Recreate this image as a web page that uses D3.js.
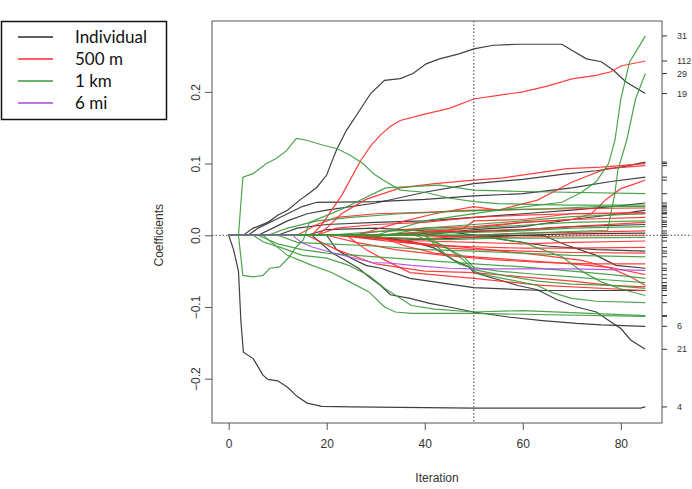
<!DOCTYPE html>
<html>
<head>
<meta charset="utf-8">
<script src="https://cdn.jsdelivr.net/npm/d3@7"></script>
<style>
  body { margin: 0; background: #fff; }
  svg text { font-family: "Liberation Sans", Arial, sans-serif; }
  svg text.legend-label { font-family: Lato, "Open Sans", sans-serif; }
</style>
</head>
<body>
<svg width="692" height="489"></svg>
<script>
// coefficient paths as [iteration, coefficient] knots
var blackPaths = [
  [[0,0],[1,-0.02],[2,-0.05],[2.5,-0.12],[3,-0.163],[5,-0.172],[7,-0.195],[8,-0.201],[10,-0.203],[12,-0.212],[14,-0.225],[16,-0.234],[19,-0.2385],[25,-0.2394],[50,-0.241],[84,-0.241],[85,-0.2394]],
  [[0,0],[3,0],[5,0.01],[8,0.018],[10,0.028],[12,0.035],[14.5,0.049],[16.5,0.059],[18,0.067],[20,0.084],[21,0.102],[22,0.119],[24,0.146],[26.7,0.174],[29,0.198],[31.8,0.216],[35,0.2185],[37.6,0.2255],[40.3,0.239],[43,0.246],[47,0.253],[50,0.26],[54,0.265],[59,0.2664],[68,0.2664],[70,0.258],[73,0.246],[76,0.242],[78.5,0.23],[81,0.214],[85,0.1976]],
  [[0,0],[17,0],[19,-0.012],[21,-0.024],[24,-0.036],[26.5,-0.046],[28.6,-0.058],[31,-0.07],[33,-0.083],[37,-0.088],[41,-0.095],[45,-0.1],[50,-0.107],[57,-0.114],[64,-0.119],[71,-0.123],[76,-0.125],[85,-0.127]],
  [[0,0],[28,0],[33,-0.005],[38,-0.01],[42,-0.018],[46,-0.035],[49,-0.044],[50,-0.052],[54,-0.06],[59,-0.07],[63,-0.076],[67,-0.09],[71,-0.1],[75,-0.107],[78,-0.121],[80,-0.13],[82,-0.146],[85,-0.159]],
  [[0,0],[4,0],[6,0.01],[9,0.02],[12,0.03],[15,0.04],[18,0.046],[30,0.047],[40,0.05],[50,0.055],[60,0.058],[70,0.066],[78,0.075],[85,0.081]],
  [[0,0],[6,0],[9,0.01],[12,0.02],[16,0.03],[20,0.035],[30,0.045],[40,0.06],[50,0.072],[60,0.078],[68,0.085],[75,0.09],[80,0.095],[85,0.102]],
  [[0,0],[10,0],[14,0.01],[20,0.015],[30,0.018],[40,0.02],[50,0.025],[60,0.03],[70,0.035],[78,0.04],[85,0.045]],
  [[0,0],[16,0],[20,0.008],[30,0.01],[40,0.006],[50,0.005],[60,0.008],[70,0.012],[85,0.015]],
  [[0,0],[22,0],[30,-0.004],[40,-0.006],[50,-0.003],[60,0],[70,0.002],[85,0.003]],
  [[0,0],[20,0],[22,-0.02],[25,-0.032],[28,-0.042],[31,-0.046],[37,-0.06],[50,-0.073],[64,-0.077],[85,-0.077]],
  [[0,0],[64,0],[69,-0.014],[75,-0.028],[79,-0.042],[85,-0.046]],
  [[0,0],[35,0],[45,0.005],[55,-0.005],[65,-0.015],[75,-0.02],[85,-0.022]],
  [[0,0],[40,0],[50,0.008],[60,0.012],[70,0.022],[80,0.03],[85,0.035]]
];

var redPaths = [
  [[0,0],[17,0],[19,0.015],[21,0.035],[23,0.055],[25,0.08],[27,0.105],[29,0.125],[31,0.14],[33,0.152],[35,0.16],[40,0.169],[45,0.177],[50,0.19],[55,0.195],[60,0.2],[65,0.208],[70,0.218],[75,0.223],[78,0.228],[80,0.236],[85,0.243]],
  [[0,0],[18,0],[20,0.01],[23,0.03],[28,0.05],[35,0.066],[42,0.072],[50,0.077],[56,0.08],[62,0.086],[69,0.093],[76,0.095],[85,0.1]],
  [[0,0],[26,0],[30,0.008],[36,0.02],[42,0.03],[50,0.04],[55,0.035],[63,0.049],[70,0.074],[77,0.093],[85,0.097]],
  [[0,0],[30,0],[40,0.005],[50,0.01],[60,0.018],[70,0.022],[74,0.03],[77,0.05],[80,0.065],[83,0.072],[85,0.077]],
  [[0,0],[14,0],[18,0.015],[22,0.025],[30,0.03],[40,0.032],[50,0.035],[60,0.036],[70,0.037],[85,0.038]],
  [[0,0],[18,0],[22,0.01],[30,0.015],[40,0.018],[50,0.025],[60,0.028],[70,0.03],[85,0.032]],
  [[0,0],[25,0],[30,0.005],[40,0.01],[50,0.012],[60,0.018],[70,0.022],[85,0.025]],
  [[0,0],[30,0],[40,0.004],[50,0.006],[60,0.008],[70,0.012],[85,0.018]],
  [[0,0],[20,0],[30,-0.003],[40,-0.005],[50,0],[60,0.003],[70,0.004],[85,0.006]],
  [[0,0],[35,0],[45,-0.002],[55,-0.003],[70,-0.001],[85,0]],
  [[0,0],[22,0],[30,-0.006],[40,-0.008],[50,-0.01],[60,-0.012],[70,-0.01],[85,-0.008]],
  [[0,0],[24,0],[32,-0.008],[42,-0.014],[50,-0.016],[60,-0.018],[70,-0.018],[85,-0.017]],
  [[0,0],[28,0],[36,-0.01],[45,-0.018],[50,-0.02],[60,-0.022],[70,-0.024],[85,-0.025]],
  [[0,0],[26,0],[37,-0.0098],[50,-0.018],[64,-0.028],[72,-0.035],[78,-0.046],[82,-0.058],[85,-0.07]],
  [[0,0],[24,0],[28,-0.02],[32,-0.035],[37,-0.052],[50,-0.06],[64,-0.07],[85,-0.077]],
  [[0,0],[30,0],[36,-0.015],[42,-0.025],[50,-0.03],[60,-0.035],[70,-0.04],[78,-0.045],[85,-0.055]],
  [[0,0],[20,0],[26,-0.01],[34,-0.02],[44,-0.028],[54,-0.034],[64,-0.038],[74,-0.04],[85,-0.04]],
  [[0,0],[16,0],[22,-0.02],[30,-0.04],[40,-0.05],[50,-0.052],[60,-0.058],[70,-0.064],[78,-0.07],[85,-0.072]],
  [[0,0],[40,0],[48,0.01],[50,0.02],[60,0.022],[70,0.03],[85,0.03]]
];

var greenPaths = [
  [[0,0],[30,0],[40,0.02],[55,0.035],[68,0.046],[72,0.06],[75,0.075],[77.5,0.1],[78.8,0.1325],[80,0.19],[81.8,0.242],[83,0.255],[85,0.278]],
  [[0,0],[50,0],[65,0.004],[77.3,0.007],[78.8,0.059],[79.4,0.091],[81.2,0.1325],[83,0.19],[85,0.2255]],
  [[0,0],[2,0],[2.9,0.081],[5,0.086],[7.7,0.1],[9.7,0.107],[11.8,0.118],[13.8,0.135],[15.9,0.1325],[19.3,0.1255],[22,0.121],[24.7,0.112],[27.4,0.1],[29.5,0.086],[31.5,0.077],[35,0.063],[40,0.06],[45,0.052],[50,0.047],[55,0.044],[69,0.042],[85,0.042]],
  [[0,0],[2,0],[2.9,-0.056],[5,-0.058],[7,-0.056],[8.4,-0.046],[10.4,-0.044],[12.4,-0.03],[13.8,-0.016],[15.2,-0.007],[16.5,0.018],[22.6,0.035],[32,0.066],[43,0.07],[50,0.063],[60,0.061],[85,0.058]],
  [[0,0],[5,0],[7,-0.009],[11,-0.018],[15,-0.028],[20,-0.032],[24.5,-0.042],[28.6,-0.056],[31.8,-0.074],[37.3,-0.098],[42,-0.103],[50,-0.107],[60,-0.105],[70,-0.108],[85,-0.112]],
  [[0,0],[7,0],[12,-0.028],[17,-0.042],[21,-0.052],[25,-0.066],[28.6,-0.079],[31.8,-0.1],[34,-0.107],[37.3,-0.109],[50,-0.109],[85,-0.113]],
  [[0,0],[40,0],[44,-0.025],[47,-0.04],[49,-0.044],[50,-0.05],[52,-0.055],[58,-0.063],[63,-0.07],[66,-0.08],[70,-0.088],[75,-0.092],[85,-0.094]],
  [[0,0],[8,0],[12,0.01],[18,0.02],[25,0.025],[35,0.03],[45,0.033],[55,0.035],[65,0.037],[75,0.04],[85,0.04]],
  [[0,0],[20,0],[30,0.005],[40,0.008],[50,0.01],[60,0.014],[70,0.018],[85,0.02]],
  [[0,0],[30,0],[40,0.003],[50,0.004],[60,0.006],[70,0.01],[85,0.012]],
  [[0,0],[25,0],[35,-0.004],[45,-0.006],[55,-0.004],[65,-0.004],[85,-0.003]],
  [[0,0],[6,0],[10,-0.012],[15,-0.02],[20,-0.025],[30,-0.03],[40,-0.035],[50,-0.04],[60,-0.044],[70,-0.05],[78,-0.055],[85,-0.06]],
  [[0,0],[40,0],[45,-0.02],[48,-0.03],[50,-0.045],[55,-0.05],[62,-0.054],[70,-0.058],[77,-0.062],[85,-0.066]],
  [[0,0],[38,0],[44,-0.015],[48,-0.035],[50,-0.048],[56,-0.056],[63,-0.064],[70,-0.068],[78,-0.07],[85,-0.074]],
  [[0,0],[50,0],[60,-0.01],[68,-0.03],[72,-0.05],[76,-0.065],[80,-0.075],[85,-0.084]],
  [[0,0],[10,0],[14,-0.01],[20,-0.012],[30,-0.015],[40,-0.02],[50,-0.022],[60,-0.025],[70,-0.028],[85,-0.03]],
  [[0,0],[32,0],[40,0.01],[50,0.015],[60,0.02],[70,0.026],[85,0.03]]
];

var purplePaths = [
  [[0,0],[13.3,0],[13.5,-0.003],[14.9,-0.01],[16.9,-0.016],[21,-0.024],[25.1,-0.031],[29.2,-0.038],[33.3,-0.039],[37.3,-0.042],[45,-0.046],[50,-0.047],[70,-0.047],[85,-0.049]]
];

// right-hand labels: [group, index in group, label]
var endLabels = [
  ["g", 0, "31"], ["r", 0, "112"], ["g", 1, "29"], ["k", 1, "19"],
  ["k", 2, "6"], ["k", 3, "21"], ["k", 0, "4"]
];

var xTicks = [0, 20, 40, 60, 80],
    yTicks = [-0.2, -0.1, 0, 0.1, 0.2],
    legendNames = ["Individual", "500 m", "1 km", "6 mi"],
    stopIteration = 50;

var colors = { k: "#2b2b2b", r: "#ff2a2a", g: "#3a9a3a", p: "#a845e8" };

var svg = d3.select("svg"),
    x = d3.scaleLinear().domain([-3.4, 88.4]).range([212, 662]),
    y = d3.scaleLinear().domain([-0.2618, 0.2988]).range([423, 21]);

var groups = { k: blackPaths, r: redPaths, g: greenPaths, p: purplePaths };

var series = [];
["k", "r", "g", "p"].forEach(function(key) {
  groups[key].forEach(function(pts, i) {
    series.push({ key: key, idx: i, pts: pts });
  });
});

// zero line (dotted), runs out past the box on the right
svg.append("line")
  .attr("x1", x.range()[0]).attr("x2", 692)
  .attr("y1", y(0)).attr("y2", y(0))
  .attr("stroke", "#444").attr("stroke-dasharray", "1.5,2");

var line = d3.line()
  .x(function(d) { return x(d[0]); })
  .y(function(d) { return y(d[1]); });

svg.append("g").attr("class", "paths")
  .selectAll("path")
  .data(series)
  .enter().append("path")
    .attr("d", function(d) { return line(d.pts); })
    .attr("fill", "none")
    .attr("stroke", function(d) { return colors[d.key]; })
    .attr("stroke-width", 1.2)
    .attr("stroke-opacity", 0.9);

// vertical dotted line at chosen iteration
svg.append("line")
  .attr("x1", x(stopIteration)).attr("x2", x(stopIteration))
  .attr("y1", y.range()[1]).attr("y2", y.range()[0])
  .attr("stroke", "#444").attr("stroke-dasharray", "1.5,2");

// plot box
svg.append("rect")
  .attr("x", 212).attr("y", 21)
  .attr("width", 450).attr("height", 402)
  .attr("fill", "none").attr("stroke", "#555").attr("stroke-width", 1);

// bottom axis
var xAxis = svg.append("g")
  .attr("transform", "translate(0," + y.range()[0] + ")")
  .call(d3.axisBottom(x).tickValues(xTicks).tickSize(7).tickPadding(9));
xAxis.select(".domain").remove();
xAxis.selectAll("line").attr("stroke", "#555");
xAxis.selectAll("text").attr("font-size", 12).attr("fill", "#333")
  .attr("font-family", "Liberation Sans, Arial, sans-serif");

// left axis, labels parallel to the axis
var yAxis = svg.append("g")
  .attr("transform", "translate(" + x.range()[0] + ",0)")
  .call(d3.axisLeft(y).tickValues(yTicks).tickSize(7).tickFormat(d3.format(".1f")));
yAxis.select(".domain").remove();
yAxis.selectAll("line").attr("stroke", "#555");
yAxis.selectAll("text")
  .attr("transform", "rotate(-90)")
  .attr("x", 0).attr("y", -12).attr("dy", 0)
  .attr("text-anchor", "middle")
  .attr("font-size", 12).attr("fill", "#333")
  .attr("font-family", "Liberation Sans, Arial, sans-serif");

// right axis: a tick at every final coefficient
var rightX = x.range()[1];
svg.append("g").selectAll("line")
  .data(series)
  .enter().append("line")
    .attr("x1", rightX).attr("x2", rightX + 5)
    .attr("y1", function(d) { return y(d.pts[d.pts.length - 1][1]); })
    .attr("y2", function(d) { return y(d.pts[d.pts.length - 1][1]); })
    .attr("stroke", "#333");

svg.append("g").selectAll("text")
  .data(endLabels)
  .enter().append("text")
    .attr("x", rightX + 15)
    .attr("y", function(d) {
      var p = groups[d[0]][d[1]];
      return y(p[p.length - 1][1]);
    })
    .attr("dy", "0.35em")
    .attr("font-size", 9).attr("fill", "#333")
    .text(function(d) { return d[2]; });

// axis titles
svg.append("text")
  .attr("x", (x.range()[0] + x.range()[1]) / 2).attr("y", 482)
  .attr("text-anchor", "middle").attr("font-size", 12).attr("fill", "#333")
  .text("Iteration");

svg.append("text")
  .attr("transform", "translate(163," + y(0) + ")rotate(-90)")
  .attr("text-anchor", "middle").attr("font-size", 12).attr("fill", "#333")
  .text("Coefficients");

// legend
var legend = svg.append("g");
legend.append("rect")
  .attr("x", 1.5).attr("y", 21.5).attr("width", 165).attr("height", 98)
  .attr("fill", "#fff").attr("stroke", "#111").attr("stroke-width", 1.5);

var legendKeys = ["k", "r", "g", "p"];
var ly = d3.scalePoint().domain(legendNames).range([37, 103]);

legend.selectAll("line.key")
  .data(legendNames)
  .enter().append("line")
    .attr("x1", 18).attr("x2", 53)
    .attr("y1", function(d) { return ly(d); })
    .attr("y2", function(d) { return ly(d); })
    .attr("stroke", function(d, i) { return colors[legendKeys[i]]; })
    .attr("stroke-width", 1.3);

legend.selectAll("text")
  .data(legendNames)
  .enter().append("text")
    .attr("class", "legend-label")
    .attr("x", 75)
    .attr("y", function(d) { return ly(d); })
    .attr("dy", "0.36em")
    .attr("font-size", 17).attr("fill", "#111")
    .text(function(d) { return d; });
</script>
</body>
</html>
